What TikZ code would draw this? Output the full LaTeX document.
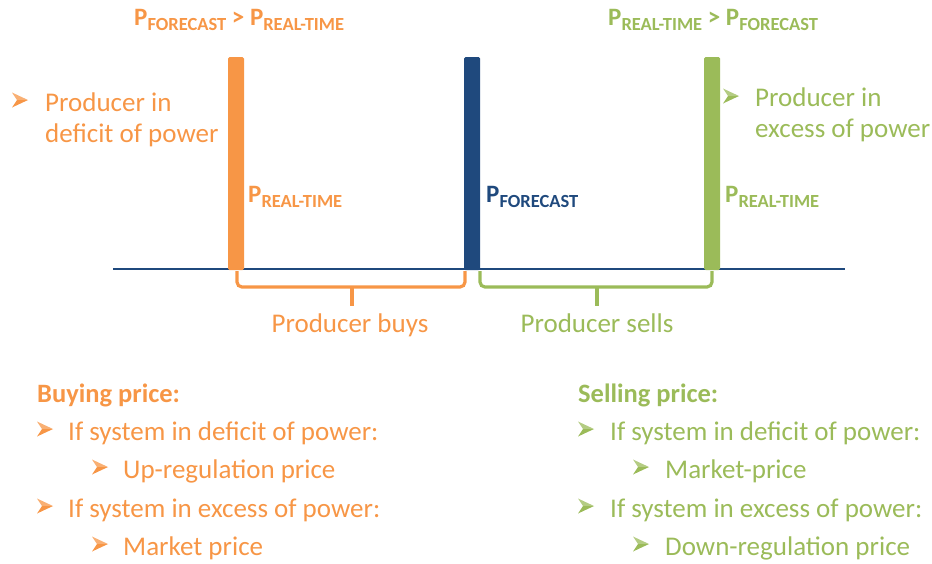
\documentclass[tikz,border=0pt]{standalone}
\usepackage{fontspec}
\setmainfont{Carlito}
\definecolor{orng}{HTML}{F79646}
\definecolor{grn}{HTML}{9BBB59}
\definecolor{navy}{HTML}{1F497D}
\newcommand\PP[1]{P\raisebox{-5pt}{\fontsize{18.5}{18.5}\selectfont #1}}
\tikzset{
  txt/.style={anchor=base west, inner sep=0pt, font=\fontsize{27}{31}\selectfont, align=left},
  plab/.style={anchor=base west, inner sep=0pt, font=\fontsize{25}{25}\selectfont\bfseries},
  bar/.style={draw=none, minimum width=16pt, minimum height=213pt, inner sep=0pt, rounded corners=1.5pt},
  brace/.style={line width=3.2pt, rounded corners=5pt},
  bul/.pic={
    \fill[#1!75!white] (0,-7.5) -- (16,0) -- (5,0) -- cycle;
    \fill[#1] (0,7.5) -- (16,0) -- (5,0) -- cycle;
  }
}
\begin{document}
\begin{tikzpicture}[x=1pt,y=-1pt]
\useasboundingbox (0,0) rectangle (932,563);
% axis
\coordinate (axL) at (113,269);
\coordinate (axR) at (845,269);
\draw[navy, line width=1.2pt] (axL) -- (axR);
% bars
\node[bar, fill=orng] (b1) at (236,163.5) {};
\node[bar, fill=navy] (b2) at (472,163.5) {};
\node[bar, fill=grn] (b3) at (712,163.5) {};
% top labels
\node[plab, text=orng] (t1) at (134,25) {\PP{FORECAST} > \PP{REAL-TIME}};
\node[plab, text=grn] (t2) at (608,25) {\PP{REAL-TIME} > \PP{FORECAST}};
% side labels
\node[plab, text=orng] (l1) at (248,202) {\PP{REAL-TIME}};
\node[plab, text=navy] (l2) at (486,202) {\PP{FORECAST}};
\node[plab, text=grn] (l3) at (725,202) {\PP{REAL-TIME}};
% producer states
\pic at (12,100) {bul=orng};
\node[txt, text=orng] (p1) at (45,142) {Producer in\\deficit of power};
\pic at (723,96) {bul=grn};
\node[txt, text=grn] (p2) at (755,137) {Producer in\\excess of power};
% braces
\coordinate (o1) at (237,271);
\coordinate (o2) at (465,271);
\coordinate (g1) at (480,271);
\coordinate (g2) at (712,271);
\draw[orng, brace] (o1) -- (237,287) -- (465,287) -- (o2);
\draw[orng, line width=3.2pt] (352,286) -- (352,306);
\draw[grn, brace] (g1) -- (480,287) -- (712,287) -- (g2);
\draw[grn, line width=3.2pt] (597,286) -- (597,306);
\node[anchor=base, inner sep=0pt, font=\fontsize{27}{31}\selectfont, text=orng] (buy) at (350,332) {Producer buys};
\node[anchor=base, inner sep=0pt, font=\fontsize{27}{31}\selectfont, text=grn] (sell) at (597,332) {Producer sells};
% buying list
\node[txt, text=orng, font=\fontsize{26.5}{31}\selectfont\bfseries] (bh) at (37,402) {Buying price:};
\pic at (37,429) {bul=orng};
\node[txt, text=orng] (bi1) at (68,440) {If system in deficit of power:};
\pic at (92,467) {bul=orng};
\node[txt, text=orng] (bi2) at (123,478) {Up-regulation price};
\pic at (37,506) {bul=orng};
\node[txt, text=orng] (bi3) at (68,517) {If system in excess of power:};
\pic at (92,544) {bul=orng};
\node[txt, text=orng] (bi4) at (123,555) {Market price};
% selling list
\node[txt, text=grn, font=\fontsize{26.5}{31}\selectfont\bfseries] (sh) at (578,402) {Selling price:};
\pic at (578,429) {bul=grn};
\node[txt, text=grn] (si1) at (610,440) {If system in deficit of power:};
\pic at (633,467) {bul=grn};
\node[txt, text=grn] (si2) at (665,478) {Market-price};
\pic at (578,506) {bul=grn};
\node[txt, text=grn] (si3) at (610,517) {If system in excess of power:};
\pic at (633,544) {bul=grn};
\node[txt, text=grn] (si4) at (665,555) {Down-regulation price};
\end{tikzpicture}
\end{document}
